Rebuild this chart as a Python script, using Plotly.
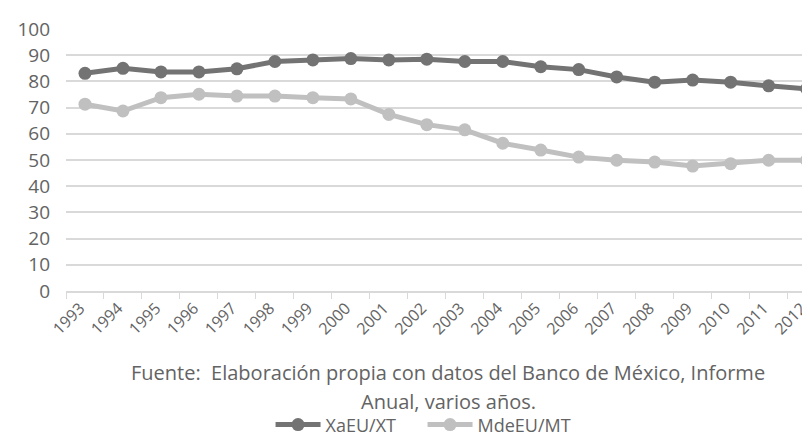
import plotly.graph_objects as go

years = [str(y) for y in range(1993, 2013)]
xa_eu_xt = [83.1, 85.0, 83.6, 83.6, 84.8, 87.6, 88.2, 88.7, 88.2, 88.5,
            87.6, 87.6, 85.6, 84.5, 81.7, 79.7, 80.5, 79.7, 78.3, 77.2]
mde_eu_mt = [71.3, 68.7, 73.8, 75.1, 74.4, 74.4, 73.8, 73.3, 67.4, 63.5,
             61.5, 56.4, 53.8, 51.1, 49.9, 49.2, 47.7, 48.6, 49.9, 49.9]
y_ticks = list(range(0, 101, 10))

FONT = "Open Sans, sans-serif"
TXT = "#636363"
DARK = "#737373"
LIGHT = "#c0c0c0"

fig = go.Figure()
fig.add_trace(go.Scatter(x=years, y=xa_eu_xt, name="XaEU/XT", mode="lines+markers",
                         line=dict(color=DARK, width=5),
                         marker=dict(color=DARK, size=13)))
fig.add_trace(go.Scatter(x=years, y=mde_eu_mt, name="MdeEU/MT", mode="lines+markers",
                         line=dict(color=LIGHT, width=5),
                         marker=dict(color=LIGHT, size=13)))

fig.update_layout(
    width=810, height=436,
    margin=dict(l=58, r=0, t=21, b=149),
    plot_bgcolor="white", paper_bgcolor="white",
    font=dict(family=FONT, color=TXT, size=17),
    showlegend=True,
    legend=dict(orientation="h", x=0.272, xanchor="left", y=-0.511, yanchor="middle",
                font=dict(size=18, color=TXT), bgcolor="rgba(0,0,0,0)",
                tracegroupgap=0, itemwidth=45, entrywidth=92, entrywidthmode="pixels"),
    xaxis=dict(type="category", range=[-0.5, 19.3], showgrid=False, automargin=False,
               showline=True, linecolor="#d9d9d9", linewidth=1.5,
               ticks="outside", tickson="boundaries", ticklen=6, tickcolor="#d9d9d9",
               tickangle=-45, ticklabelshift=-5, tickfont=dict(size=16, color=TXT)),
    yaxis=dict(range=[0, 100], tickvals=y_ticks, showgrid=True, gridcolor="#d9d9d9",
               gridwidth=1.5, zeroline=False, showline=False, automargin=False,
               tickfont=dict(size=19, color=TXT), ticklabelstandoff=15),
    annotations=[
        dict(text="Fuente:  Elaboración propia con datos del Banco de México, Informe",
             xref="paper", yref="paper", x=0.508, y=-0.312, xanchor="center", yanchor="middle",
             showarrow=False, font=dict(size=20, color=TXT)),
        dict(text="Anual, varios años.",
             xref="paper", yref="paper", x=0.508, y=-0.421, xanchor="center", yanchor="middle",
             showarrow=False, font=dict(size=20, color=TXT)),
    ],
)
fig.write_html("out.html")
